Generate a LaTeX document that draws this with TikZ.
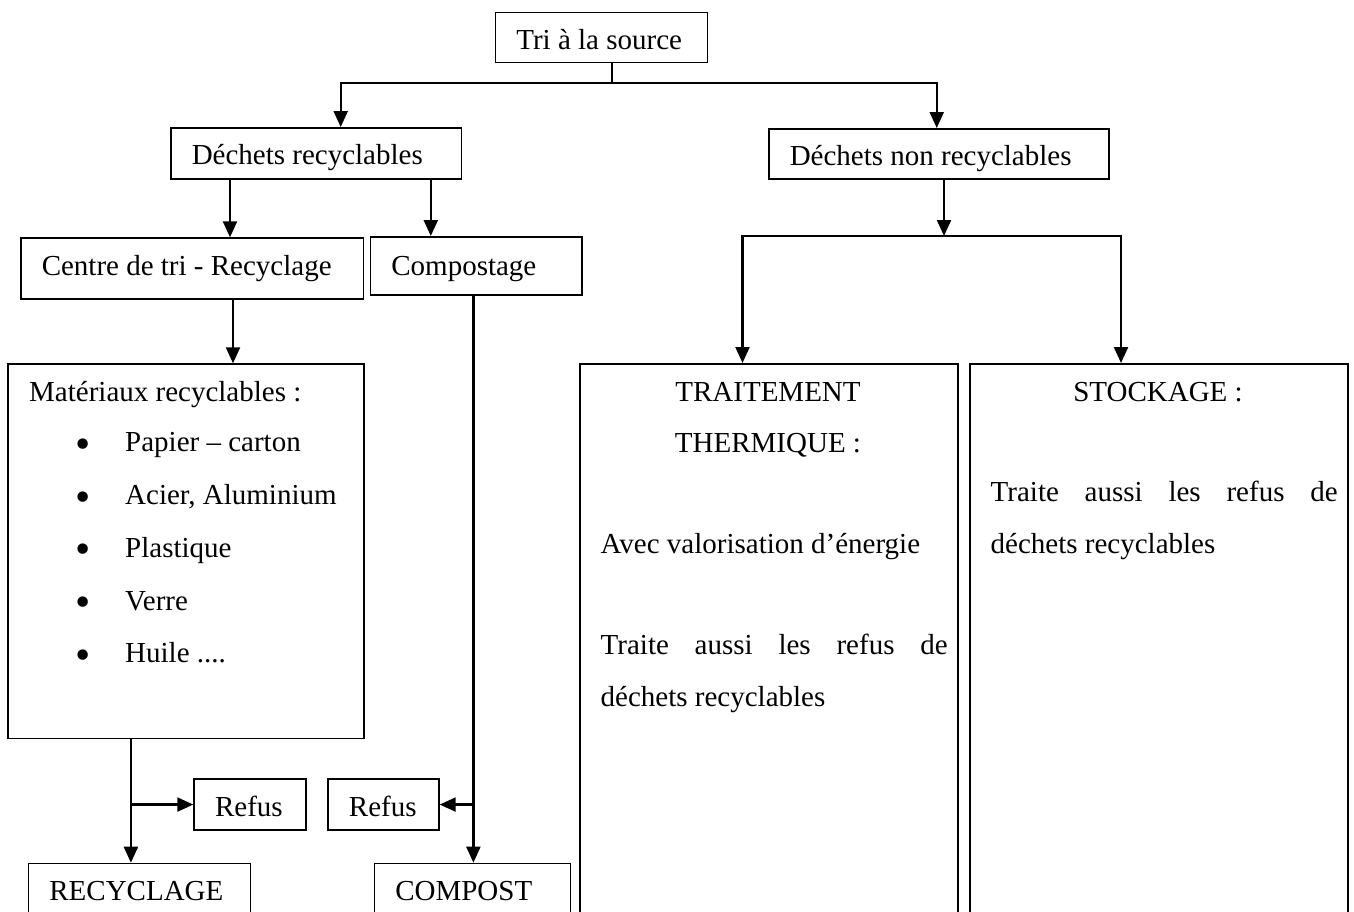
\documentclass[tikz,border=0pt]{standalone}
\usepackage{fontspec}
\usepackage{graphicx}
\setmainfont{Liberation Serif}
\usetikzlibrary{arrows.meta}
\newcommand{\fourdots}{....}

\begin{document}
\begin{tikzpicture}[x=1pt, y=-1pt,
  font=\fontsize{29}{35}\selectfont,
  box/.style={draw, line width=1.5pt, anchor=north west, inner sep=0pt,
    align=flush left, text height=37pt, text depth=14pt,
    execute at begin node={\hspace*{21pt}}},
  bigbox/.style={draw, line width=1.5pt, anchor=north west, inner sep=0pt},
  txt/.style={inner sep=0pt},
  link/.style={line width=2.2pt},
  arrow/.style={line width=2.2pt, -{Triangle[length=16pt,width=14pt]}}]

\useasboundingbox (0,0) rectangle (1354,911);
\clip (0,0) rectangle (1354,911);
\fill[white] (0,0) rectangle (1354,911);

% Top levels
\node[box, text width=212pt, text depth=13pt] (tri) at (494.6,11.7) {Tri à la source};
\node[box, text width=290.7pt] (dr) at (170,127) {Déchets recyclables};
\node[box, text width=340pt, text depth=13pt] (dnr) at (768,128) {Déchets non recyclables};
\node[box, text width=342.5pt, text height=37.7pt, text depth=23.3pt] (centre) at (20,237.3) {Centre de tri - Recyclage};
\node[box, text width=211.4pt, text height=39pt, text depth=19pt] (compost) at (369.6,236) {Compostage};

% Big boxes
\node[bigbox, minimum width=356pt, minimum height=374.4pt] (mat) at (7.3,363.3) {};
\node[bigbox, minimum width=378pt, minimum height=600pt] (therm) at (579,363) {};
\node[bigbox, minimum width=378pt, minimum height=600pt] (stock) at (969,363) {};

% Materials list
\node[txt, anchor=base west] (mattitle) at (29,401.7) {Matériaux recyclables :};
\foreach \entry [count=\i] in {Papier – carton, {Acier, Aluminium}, Plastique, Verre, Huile \fourdots} {
  \node[txt, anchor=base] (dot\i) at (83,{398.9+52.8*\i}) {\raisebox{-6.5pt}{\scalebox{1.5}{•}}};
  \node[txt, anchor=base west] (entry\i) at (125,{398.9+52.8*\i}) {\entry};
}

% Thermal treatment text
\node[txt, anchor=base] (thermA) at (768,401.7) {TRAITEMENT};
\node[txt, anchor=base] (thermB) at (768,452) {THERMIQUE :};
\node[txt, anchor=base west] (thermC) at (600.5,553) {Avec valorisation d’énergie};
\node[txt, anchor=base west] (thermD) at (600.5,654) {\makebox[347pt][s]{Traite aussi les refus de}};
\node[txt, anchor=base west] (thermE) at (600.5,706) {déchets recyclables};

% Storage text
\node[txt, anchor=base] (stockA) at (1158,401.7) {STOCKAGE :};
\node[txt, anchor=base west] (stockB) at (990.5,501) {\makebox[347pt][s]{Traite aussi les refus de}};
\node[txt, anchor=base west] (stockC) at (990.5,553) {déchets recyclables};

% Rejects and outputs
\node[box, text width=111.7pt] (refusL) at (193.3,778.3) {Refus};
\node[box, text width=111pt] (refusR) at (327.2,778.3) {Refus};
\node[box, text width=221.9pt, text height=37.3pt, text depth=60pt] (recyc) at (27.6,862.7) {RECYCLAGE};
\node[box, text width=196pt, text height=37.3pt, text depth=60pt] (compostbox) at (373.5,862.7) {COMPOST};

% Connectors
\coordinate (j1) at (611.6,83.3);
\draw[link] (tri.south -| j1) -- (j1);
\draw[arrow] (j1) -| ([xshift=24.6pt]dr.north);
\draw[arrow] (j1) -| ([xshift=-2pt]dnr.north);

\coordinate (j5) at ([xshift=60pt]dr.south west);
\draw[arrow] (j5) -- (j5 |- centre.north);
\coordinate (j6) at ([xshift=260.8pt]dr.south west);
\draw[arrow] (j6) -- (j6 |- compost.north);
\coordinate (j7) at ([xshift=213pt]centre.south west);
\draw[arrow] (j7) -- (j7 |- mat.north);

\coordinate (j2) at (944,236);
\draw[arrow] (dnr.south -| j2) -- (j2);
\draw[arrow] (j2) -| ([xshift=163.5pt]therm.north west);
\draw[arrow] (j2) -| ([xshift=152pt]stock.north west);

\coordinate (j3) at ([xshift=123.6pt]mat.south west);
\draw[arrow] (j3) -- (j3 |- recyc.north);
\draw[arrow] (j3 |- refusL.west) -- (refusL.west);

\coordinate (j4) at ([xshift=103.8pt]compost.south west);
\draw[arrow] (j4) -- (j4 |- compostbox.north);
\draw[arrow] (j4 |- refusR.east) -- (refusR.east);

\end{tikzpicture}
\end{document}
